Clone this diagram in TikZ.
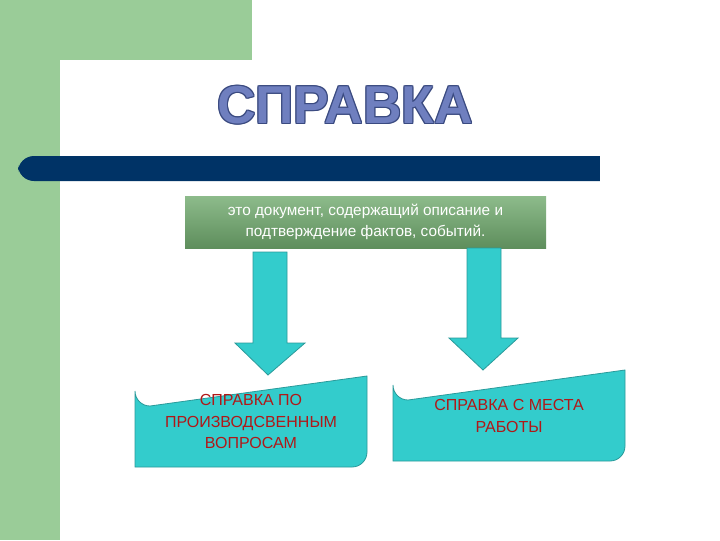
\documentclass[tikz,border=0pt]{standalone}
\usepackage{fontspec}
\setmainfont{Liberation Sans}
\usetikzlibrary{calc}
\definecolor{lgreen}{HTML}{9ACC98}
\definecolor{navy}{HTML}{003366}
\definecolor{teal1}{HTML}{33CCCC}
\definecolor{tealdk}{HTML}{2A9A9A}
\definecolor{titlef}{HTML}{6F7FBF}
\definecolor{titled}{HTML}{3A4A80}
\definecolor{txtred}{HTML}{B01818}
\definecolor{deftop}{HTML}{8DBB8B}
\definecolor{defbot}{HTML}{5E8E5C}
\tikzset{
  arrowshape/.style={fill=teal1,draw=tealdk,line width=0.6pt},
  catbox/.style={fill=teal1,draw=tealdk,line width=0.6pt},
  cattext/.style={text=txtred,font=\fontsize{12}{16}\selectfont,align=center},
  titlestyle/.style={font=\bfseries\fontsize{40}{40}\selectfont},
}
\begin{document}
\begin{tikzpicture}[x=0.75pt,y=-0.75pt]
\useasboundingbox (0,0) rectangle (720,540);
\fill[white] (0,0) rectangle (720,540);
% background green
\fill[lgreen] (0,0) rectangle (252,60);
\fill[lgreen] (0,0) rectangle (60,540);
\fill[white] (60,540) -- (60,95) arc[start angle=180,end angle=90,radius=35] -- (252,60) -- (252,120) -- (120,120) -- (120,540) -- cycle;
% title
\foreach \dx/\dy in {-1/0,1/0,0/-1,0/1,-1/-1,1/1,-1/1,1/-1}
  \node[titlestyle,text=titled] at (345+\dx,105+\dy) {СПРАВКА};
\node[titlestyle,text=titlef] (title) at (345,105) {СПРАВКА};
% navy bar
\fill[navy,rounded corners=12pt] (18,156) rectangle (640,181);
\fill[white] (600,150) rectangle (720,190);
% definition box
\shade[top color=deftop, bottom color=defbot] (185,196) rectangle (546,248);
\node[text=white,font=\fontsize{11.5}{16}\selectfont,align=center] (def) at (365.5,222) {это документ, содержащий описание и\\подтверждение фактов, событий.};
% left arrow
\draw[arrowshape] (253,252) -- (287,252) -- (287,343) -- (305,343) -- (268,375) -- (235,343) -- (253,343) -- cycle;
% right arrow
\draw[arrowshape] (467,248) -- (501,248) -- (501,338) -- (518,338) -- (483,370) -- (449,338) -- (467,338) -- cycle;
% boxes
\draw[catbox] (135,467) -- (135,391) arc[start angle=180,end angle=90,radius=15] -- (367,376) -- (367,452) arc[start angle=0,end angle=90,radius=15] -- cycle;
\node[cattext] (b1) at (251,421.5) {СПРАВКА ПО\\ПРОИЗВОДСВЕННЫМ\\ВОПРОСАМ};
\draw[catbox] (393,461) -- (393,385) arc[start angle=180,end angle=90,radius=15] -- (625,370) -- (625,446) arc[start angle=0,end angle=90,radius=15] -- cycle;
\node[cattext] (b2) at (509,416) {СПРАВКА С МЕСТА\\РАБОТЫ};
\end{tikzpicture}
\end{document}
